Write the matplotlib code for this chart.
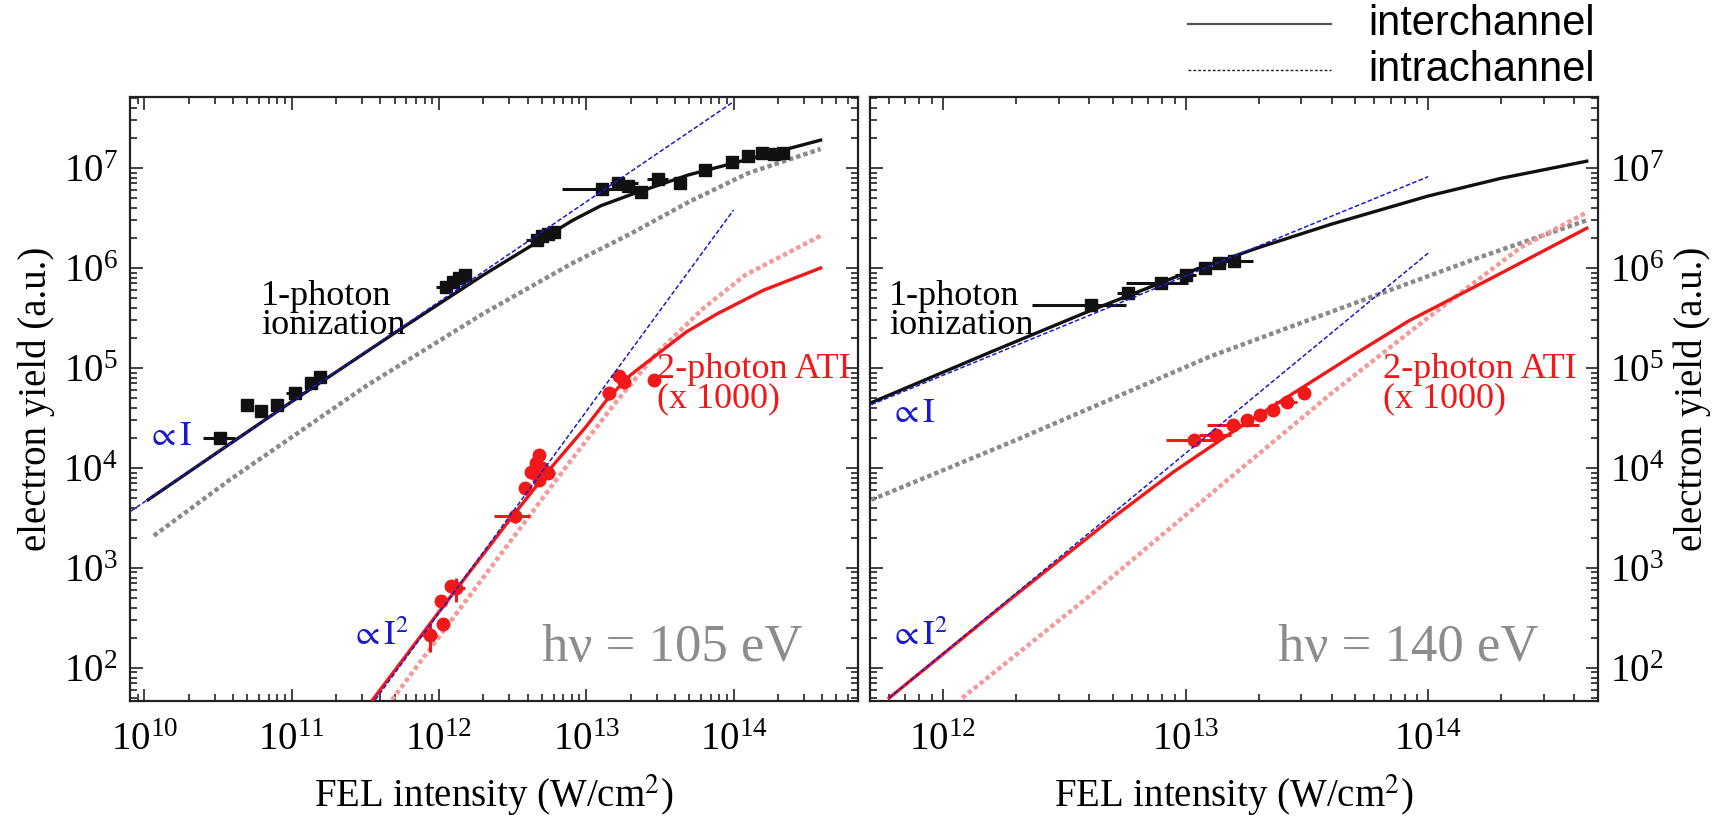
import matplotlib
matplotlib.use("Agg")
import matplotlib.pyplot as plt
from matplotlib.lines import Line2D
from matplotlib.ticker import LogLocator, NullFormatter

# =============================================================================
# DATA: hv = 105 eV (left panel)
# =============================================================================
# 1-photon ionization, measured (squares) with horizontal error bars
one_x_105 = [3.25e10, 4.95e10, 6.2e10, 7.9e10, 1.06e11, 1.36e11, 1.55e11,
             1.12e12, 1.25e12, 1.36e12, 1.51e12,
             4.6e12, 5.0e12, 5.5e12, 6.0e12,
             1.28e13, 1.65e13, 1.92e13, 2.36e13, 3.09e13, 4.3e13,
             6.45e13, 9.7e13, 1.26e14, 1.55e14, 1.89e14, 2.15e14]
one_y_105 = [2.0e4, 4.3e4, 3.7e4, 4.3e4, 5.6e4, 7.1e4, 8.2e4,
             6.5e5, 7.3e5, 7.9e5, 8.6e5,
             1.9e6, 2.07e6, 2.2e6, 2.3e6,
             6.1e6, 7.1e6, 6.65e6, 5.7e6, 7.8e6, 7.0e6,
             9.5e6, 1.16e7, 1.33e7, 1.41e7, 1.38e7, 1.41e7]
one_xlo_105 = [0.75e10, 0.3e10, 0.3e10, 0.4e10, 0.15e11, 0.1e11, 0.1e11,
               0.17e12, 0.1e12, 0.1e12, 0.1e12,
               0.7e12, 0.3e12, 0.3e12, 0.4e12,
               0.59e13, 0.2e13, 0.2e13, 0.2e13, 0.5e13, 0.3e13,
               0.4e13, 0.6e13, 0.8e13, 0.1e14, 0.1e14, 0.1e14]
one_xhi_105 = [0.85e10, 0.3e10, 0.3e10, 0.4e10, 0.15e11, 0.1e11, 0.1e11,
               0.17e12, 0.1e12, 0.1e12, 0.1e12,
               0.7e12, 0.3e12, 0.3e12, 0.4e12,
               1.12e13, 0.6e13, 0.2e13, 0.2e13, 0.5e13, 0.3e13,
               0.4e13, 0.6e13, 0.8e13, 0.1e14, 0.1e14, 0.1e14]

# 2-photon ATI (x 1000), measured (circles)
two_x_105 = [8.7e11, 1.07e12, 1.03e12, 1.3e12, 1.2e12,
             3.26e12, 3.83e12, 4.2e12, 4.55e12, 4.8e12, 5.0e12, 5.5e12, 4.8e12,
             1.43e13, 1.68e13, 1.8e13, 2.87e13]
two_y_105 = [215, 275, 465, 630, 660,
             3.3e3, 6.3e3, 9.2e3, 1.12e4, 1.35e4, 1.0e4, 9.0e3, 7.6e3,
             5.6e4, 8.3e4, 7.3e4, 7.6e4]
two_xerr_105 = [0.1e12, 0.1e12, 0.08e12, 0.2e12, 0.1e12,
                0.9e12, 0.3e12, 0.3e12, 0.3e12, 0.4e12, 0.4e12, 0.6e12, 0.3e12,
                0.15e13, 0.2e13, 0.15e13, 0.25e13]
two_yerr_105 = [70, 30, 60, 170, 80,
                500, 900, 1500, 1800, 2000, 1500, 1200, 900,
                8e3, 1e4, 8e3, 8e3]

# model curves
inter1_x_105 = [1.06e10, 1e11, 5.6e11, 2.0e12, 4.6e12, 8.1e12, 1.26e13, 2.0e13, 4.9e13,
                1.2e14, 3.9e14]
inter1_y_105 = [4.8e3, 4.6e4, 2.5e5, 8.5e5, 1.8e6, 3.0e6, 4.2e6, 5.4e6, 8.5e6,
                1.2e7, 1.9e7]
intra1_x_105 = [1.16e10, 3.8e10, 3.2e11, 2.0e12, 7.9e12, 2.0e13, 5.0e13, 1.26e14, 3.9e14]
intra1_y_105 = [2.1e3, 7.6e3, 6.6e4, 3.5e5, 1.1e6, 2.2e6, 4.6e6, 8.9e6, 1.55e7]
inter2_x_105 = [3.55e11, 1e12, 3.16e12, 5.75e12, 1e13, 1.41e13, 2.0e13, 2.9e13, 4.8e13,
                7.8e13, 1.6e14, 3.9e14]
inter2_y_105 = [48, 363, 3.3e3, 1e4, 2.6e4, 5.0e4, 8.5e4, 1.3e5, 2.3e5,
                3.5e5, 6.0e5, 1e6]
intra2_x_105 = [4.8e11, 2e12, 7.2e12, 1.58e13, 3.0e13, 6.3e13, 1.2e14, 3.9e14]
intra2_y_105 = [48, 800, 1e4, 4.5e4, 1.4e5, 4e5, 8.5e5, 2.1e6]

# power-law guides
lin_x_105 = [8.1e9, 1.0e14]
lin_y_105 = [3.7e3, 4.6e7]
quad_x_105 = [3.7e11, 1.0e14]
quad_y_105 = [48, 3.8e6]

# =============================================================================
# DATA: hv = 140 eV (right panel)
# =============================================================================
one_x_140 = [4.06e12, 5.8e12, 7.9e12, 1.0e13, 1.2e13, 1.37e13, 1.59e13]
one_y_140 = [4.3e5, 5.6e5, 7.1e5, 8.6e5, 1.0e6, 1.12e6, 1.17e6]
one_xlo_140 = [1.73e12, 0.6e12, 2.2e12, 0.1e13, 0.1e13, 0.1e13, 0.3e13]
one_xhi_140 = [1.64e12, 0.6e12, 2.3e12, 0.1e13, 0.1e13, 0.1e13, 0.3e13]

two_x_140 = [1.08e13, 1.34e13, 1.57e13, 1.79e13, 2.02e13, 2.29e13, 2.62e13, 3.07e13]
two_y_140 = [1.92e4, 2.15e4, 2.7e4, 3.0e4, 3.4e4, 3.8e4, 4.6e4, 5.6e4]
two_xlo_140 = [2.5e12, 0.2e13, 0.34e13, 0.1e13, 0.1e13, 0.1e13, 0.29e13, 0.1e13]
two_xhi_140 = [2.6e12, 0.2e13, 0.43e13, 0.1e13, 0.1e13, 0.1e13, 0.26e13, 0.1e13]

inter1_x_140 = [5.07e11, 1.58e12, 4e12, 1e13, 2.0e13, 4.0e13, 1e14, 2.0e14, 4.5e14]
inter1_y_140 = [4.5e4, 1.45e5, 3.7e5, 8.9e5, 1.6e6, 2.75e6, 5.25e6, 7.9e6, 1.17e7]
intra1_x_140 = [5.07e11, 2.0e12, 6.3e12, 1.26e13, 3.2e13, 6.3e13, 1.6e14, 4.5e14]
intra1_y_140 = [4.8e3, 1.9e4, 6.3e4, 1.3e5, 3.0e5, 5.5e5, 1.26e6, 3.0e6]
inter2_x_140 = [6.0e11, 2.0e12, 5.0e12, 8.9e12, 1.58e13, 2.88e13, 5.0e13, 8.3e13, 1.82e14, 4.5e14]
inter2_y_140 = [50, 540, 3.16e3, 9.1e3, 2.34e4, 5.9e4, 1.38e5, 2.95e5, 7.9e5, 2.5e6]
intra2_x_140 = [1.2e12, 4.0e12, 1.45e13, 4.0e13, 1.0e14, 2.4e14, 4.5e14]
intra2_y_140 = [50, 5.2e2, 7.2e3, 5.6e4, 3.2e5, 1.6e6, 3.6e6]

lin_x_140 = [5.07e11, 1.0e14]
lin_y_140 = [4.3e4, 8.2e6]
quad_x_140 = [6.0e11, 1.0e14]
quad_y_140 = [50, 1.41e6]

# tick positions
y_ticks = [1e2, 1e3, 1e4, 1e5, 1e6, 1e7]
x_ticks_105 = [1e10, 1e11, 1e12, 1e13, 1e14]
x_ticks_140 = [1e12, 1e13, 1e14]

# =============================================================================
# STYLE
# =============================================================================
plt.rcParams['font.family'] = ['Liberation Serif', 'DejaVu Serif']
plt.rcParams['mathtext.fontset'] = 'stix'

BLACK = '#111111'
RED = '#f01818'
PINK = '#f39a9a'
GRAY = '#8a8a8a'
BLUE = '#1a1acc'
LABEL_GRAY = '#8c8c8c'


def estilo_eixo(ax, lado, xticks):
    ax.set_xscale('log')
    ax.set_yscale('log')
    ax.set_yticks(y_ticks)
    ax.set_xticks(xticks)
    ax.yaxis.set_minor_locator(LogLocator(base=10, subs=range(2, 10), numticks=20))
    ax.yaxis.set_minor_formatter(NullFormatter())
    ax.xaxis.set_minor_locator(LogLocator(base=10, subs=range(2, 10), numticks=20))
    ax.xaxis.set_minor_formatter(NullFormatter())
    ax.set_ylim(47, 5.1e7)
    ax.tick_params(which='both', direction='in', top=True, right=True,
                   width=1.2, colors='#222222', labelcolor='black')
    ax.tick_params(which='major', length=9, labelsize=28)
    ax.tick_params(axis='x', which='major', pad=15)
    ax.tick_params(axis='y', which='major', pad=9)
    ax.tick_params(which='minor', length=5)
    if lado == 'right':
        ax.tick_params(axis='y', labelleft=False, labelright=True)
        ax.yaxis.set_label_position('right')
    for s in ax.spines.values():
        s.set_linewidth(1.6)
        s.set_color('#222222')
    ax.set_xlabel('FEL intensity (W/cm$^2$)', fontsize=28, labelpad=10)
    ax.set_ylabel('electron yield (a.u.)', fontsize=28, labelpad=6)


def desenhar_painel(ax, d):
    # intrachannel curves (dotted)
    ax.plot(d['intra1_x'], d['intra1_y'], color=GRAY, lw=3.2, ls=(0, (1, 0.7)), zorder=2)
    ax.plot(d['intra2_x'], d['intra2_y'], color=PINK, lw=3.2, ls=(0, (1, 0.7)), zorder=2)
    # interchannel curves (solid)
    ax.plot(d['inter1_x'], d['inter1_y'], color=BLACK, lw=2.4, zorder=3)
    ax.plot(d['inter2_x'], d['inter2_y'], color=RED, lw=2.4, zorder=3)
    # measured yields
    ax.errorbar(d['one_x'], d['one_y'], xerr=d['one_xerr'], fmt='s', color=BLACK,
                ms=8, elinewidth=2.2, capsize=0, zorder=4)
    ax.errorbar(d['two_x'], d['two_y'], xerr=d['two_xerr'], yerr=d.get('two_yerr'),
                fmt='o', color=RED, ms=9, elinewidth=2.2, capsize=0, zorder=4)
    # power-law guides
    ax.plot(d['lin_x'], d['lin_y'], color=BLUE, lw=1.1, ls=(0, (3, 1.5)), zorder=5)
    ax.plot(d['quad_x'], d['quad_y'], color=BLUE, lw=1.1, ls=(0, (3, 1.5)), zorder=5)


def main():
    fig = plt.figure(figsize=(17.25, 8.25), dpi=100)
    ax1 = fig.add_axes([0.0754, 0.1507, 0.4220, 0.7314])
    ax2 = fig.add_axes([0.5043, 0.1507, 0.4220, 0.7314])

    d105 = dict(one_x=one_x_105, one_y=one_y_105, one_xerr=[one_xlo_105, one_xhi_105],
                two_x=two_x_105, two_y=two_y_105, two_xerr=two_xerr_105, two_yerr=two_yerr_105,
                inter1_x=inter1_x_105, inter1_y=inter1_y_105,
                intra1_x=intra1_x_105, intra1_y=intra1_y_105,
                inter2_x=inter2_x_105, inter2_y=inter2_y_105,
                intra2_x=intra2_x_105, intra2_y=intra2_y_105,
                lin_x=lin_x_105, lin_y=lin_y_105, quad_x=quad_x_105, quad_y=quad_y_105)
    d140 = dict(one_x=one_x_140, one_y=one_y_140, one_xerr=[one_xlo_140, one_xhi_140],
                two_x=two_x_140, two_y=two_y_140, two_xerr=[two_xlo_140, two_xhi_140],
                inter1_x=inter1_x_140, inter1_y=inter1_y_140,
                intra1_x=intra1_x_140, intra1_y=intra1_y_140,
                inter2_x=inter2_x_140, inter2_y=inter2_y_140,
                intra2_x=intra2_x_140, intra2_y=intra2_y_140,
                lin_x=lin_x_140, lin_y=lin_y_140, quad_x=quad_x_140, quad_y=quad_y_140)

    desenhar_painel(ax1, d105)
    desenhar_painel(ax2, d140)
    estilo_eixo(ax1, 'left', x_ticks_105)
    estilo_eixo(ax2, 'right', x_ticks_140)
    ax1.set_xlim(8e9, 7e14)
    ax2.set_xlim(5e11, 5e14)

    # annotations, left panel
    ax1.text(6.2e10, 7.6e5, '1-photon\nionization', fontsize=26, va='top', ha='left',
             linespacing=0.85)
    ax1.text(1.03e10, 2.05e4, r'$\propto \mathrm{I}$', fontsize=25, color=BLUE, va='center')
    ax1.text(2.5e11, 205, r'$\propto \mathrm{I}^2$', fontsize=25, color=BLUE, va='center')
    ax1.text(3.0e13, 1.4e5, '2-photon ATI\n(x 1000)', fontsize=26, color=RED, va='top',
             ha='left', linespacing=0.85)
    ax1.text(5.0e12, 116, 'hν = 105 eV', fontsize=38, color=LABEL_GRAY, va='baseline')

    # annotations, right panel
    ax2.text(6.0e11, 7.6e5, '1-photon\nionization', fontsize=26, va='top', ha='left',
             linespacing=0.85)
    ax2.text(6.0e11, 3.5e4, r'$\propto \mathrm{I}$', fontsize=25, color=BLUE, va='center')
    ax2.text(6.0e11, 205, r'$\propto \mathrm{I}^2$', fontsize=25, color=BLUE, va='center')
    ax2.text(6.5e13, 1.4e5, '2-photon ATI\n(x 1000)', fontsize=26, color=RED, va='top',
             ha='left', linespacing=0.85)
    ax2.text(2.4e13, 116, 'hν = 140 eV', fontsize=38, color=LABEL_GRAY, va='baseline')

    # legend (top right, outside the axes)
    y1 = 1 - 24 / 825
    y2 = 1 - 70 / 825
    fig.add_artist(Line2D([1188 / 1725, 1331 / 1725], [y1, y1], transform=fig.transFigure,
                          color='#555555', lw=1.6))
    fig.add_artist(Line2D([1188 / 1725, 1331 / 1725], [y2, y2], transform=fig.transFigure,
                          color='#222222', lw=1.0, ls=(0, (2, 1.5))))
    fig.text(1368 / 1725, y1, 'interchannel', fontsize=30, family='Liberation Sans',
             va='center', ha='left')
    fig.text(1368 / 1725, y2, 'intrachannel', fontsize=30, family='Liberation Sans',
             va='center', ha='left')

    fig.savefig('out.png', dpi=100)


if __name__ == "__main__":
    main()
